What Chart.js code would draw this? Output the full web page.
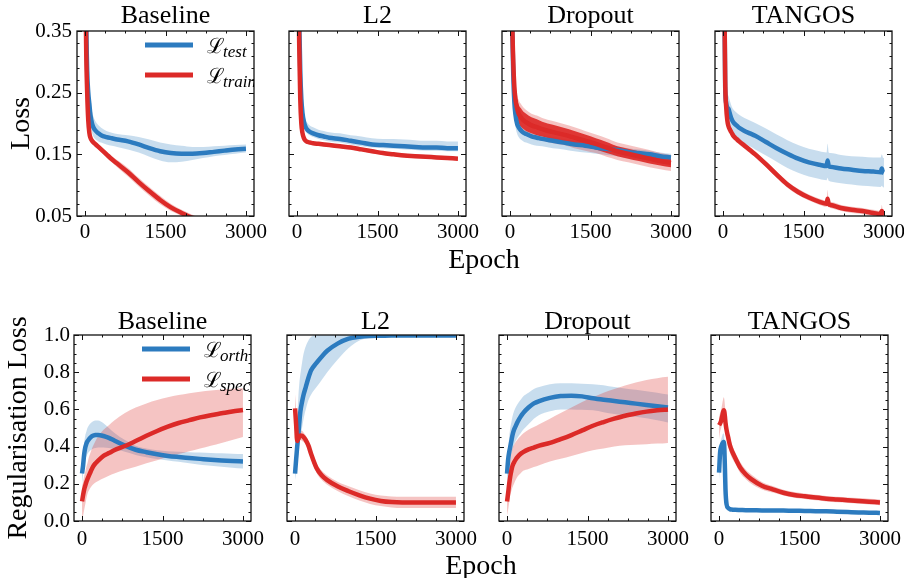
<!DOCTYPE html>
<html><head><meta charset="utf-8">
<script src="https://cdn.jsdelivr.net/npm/chart.js@4.4.0/dist/chart.umd.min.js"></script>
<style>
html,body{margin:0;padding:0;background:#fff;}
body{width:904px;height:578px;position:relative;overflow:hidden;}
canvas{position:absolute;left:0;top:0;}
.lab{position:absolute;width:200px;text-align:center;font:28px "Liberation Serif","DejaVu Serif",serif;line-height:28px;color:#000;}
</style></head>
<body>
<canvas id="c0" width="960" height="600"></canvas>
<canvas id="c1" width="960" height="600"></canvas>
<canvas id="c2" width="960" height="600"></canvas>
<canvas id="c3" width="960" height="600"></canvas>
<canvas id="c4" width="960" height="600"></canvas>
<canvas id="c5" width="960" height="600"></canvas>
<canvas id="c6" width="960" height="600"></canvas>
<canvas id="c7" width="960" height="600"></canvas>
<div class="lab" style="left:384px;top:245px;">Epoch</div>
<div class="lab" style="left:381px;top:551px;">Epoch</div>
<script>
// ---------- data ----------
const TITLES = ['Baseline', 'L2', 'Dropout', 'TANGOS'];
const X_TICKS = [0, 1500, 3000];
const X_MINOR = [375, 750, 1125, 1875, 2250, 2625];
const Y_TICKS_TOP = [0.05, 0.15, 0.25, 0.35];
const Y_MINOR_TOP = [0.07, 0.09, 0.11, 0.13, 0.17, 0.19, 0.21, 0.23, 0.27, 0.29, 0.31, 0.33];
const Y_TICKS_BOTTOM = [0.0, 0.2, 0.4, 0.6, 0.8, 1.0];
const Y_MINOR_BOTTOM = [0.05, 0.1, 0.15, 0.25, 0.3, 0.35, 0.45, 0.5, 0.55, 0.65, 0.7, 0.75, 0.85, 0.9, 0.95];

const EPOCHS = [0,20,40,60,80,100,130,160,200,250,300,400,500,600,800,1000,1200,1400,1600,1800,2000,2200,2400,2600,2800,3000];
const EPOCHS_TANGOS_TOP = [0,20,40,60,80,100,130,160,200,250,300,400,500,600,800,1000,1200,1400,1600,1800,1930,1950,1970,2000,2200,2400,2600,2800,2940,2960,2980,3000];
const EPOCHS_TANGOS_BOTTOM = [0,20,40,60,80,90,100,110,120,140,170,200,250,300,400,500,600,800,1000,1200,1400,1600,1800,2000,2200,2400,2600,2800,3000];

// Row 1: Loss (test / train)
const baseTest   = [0.60,0.38,0.285,0.25,0.232,0.214,0.200,0.193,0.188,0.184,0.181,0.178,0.176,0.174,0.171,0.166,0.160,0.155,0.152,0.151,0.151,0.152,0.154,0.156,0.158,0.159];
const baseTestHi = [0.65,0.42,0.31,0.27,0.25,0.235,0.22,0.21,0.203,0.197,0.193,0.188,0.185,0.183,0.181,0.178,0.174,0.169,0.166,0.164,0.162,0.162,0.163,0.164,0.165,0.166];
const baseTestLo = [0.55,0.34,0.26,0.23,0.215,0.198,0.185,0.178,0.174,0.171,0.169,0.166,0.164,0.162,0.158,0.153,0.146,0.140,0.137,0.138,0.141,0.144,0.147,0.149,0.151,0.153];
const baseTrain   = [0.55,0.33,0.25,0.205,0.185,0.177,0.172,0.169,0.166,0.162,0.158,0.150,0.142,0.135,0.121,0.105,0.090,0.076,0.064,0.055,0.047,0.041,0.036,0.032,0.029,0.027];
const baseTrainHi = [0.58,0.35,0.26,0.212,0.19,0.181,0.176,0.173,0.170,0.166,0.162,0.155,0.147,0.141,0.128,0.112,0.097,0.083,0.070,0.060,0.052,0.045,0.040,0.036,0.033,0.031];
const baseTrainLo = [0.52,0.31,0.24,0.198,0.18,0.173,0.168,0.165,0.162,0.158,0.154,0.145,0.137,0.129,0.114,0.098,0.083,0.069,0.058,0.050,0.042,0.037,0.032,0.028,0.025,0.023];

const l2Test   = [0.75,0.52,0.37,0.285,0.24,0.218,0.202,0.194,0.189,0.186,0.184,0.181,0.179,0.177,0.175,0.172,0.169,0.166,0.165,0.164,0.163,0.162,0.161,0.161,0.160,0.160];
const l2TestHi = [0.80,0.56,0.40,0.31,0.26,0.235,0.216,0.206,0.200,0.196,0.194,0.190,0.188,0.186,0.184,0.181,0.179,0.176,0.175,0.175,0.174,0.173,0.172,0.172,0.171,0.171];
const l2TestLo = [0.70,0.49,0.35,0.27,0.228,0.208,0.193,0.187,0.183,0.180,0.178,0.175,0.173,0.171,0.169,0.166,0.163,0.161,0.160,0.159,0.158,0.157,0.156,0.156,0.155,0.155];
const l2Train   = [0.70,0.48,0.33,0.24,0.20,0.185,0.176,0.172,0.170,0.169,0.168,0.167,0.166,0.165,0.163,0.161,0.158,0.155,0.152,0.150,0.148,0.147,0.146,0.145,0.144,0.143];
const l2TrainHi = [0.73,0.50,0.345,0.25,0.207,0.19,0.18,0.175,0.173,0.172,0.171,0.170,0.169,0.168,0.166,0.164,0.161,0.158,0.155,0.153,0.151,0.150,0.149,0.148,0.147,0.146];
const l2TrainLo = [0.67,0.46,0.315,0.23,0.193,0.18,0.172,0.169,0.167,0.166,0.165,0.164,0.163,0.162,0.160,0.158,0.155,0.152,0.149,0.147,0.145,0.144,0.143,0.142,0.141,0.140];

const dropTest   = [0.75,0.50,0.36,0.28,0.235,0.215,0.200,0.194,0.189,0.185,0.183,0.179,0.177,0.175,0.172,0.169,0.166,0.164,0.161,0.159,0.157,0.154,0.152,0.150,0.147,0.145];
const dropTestHi = [0.78,0.52,0.375,0.29,0.243,0.222,0.206,0.2,0.195,0.191,0.189,0.185,0.183,0.181,0.178,0.175,0.172,0.170,0.167,0.165,0.163,0.160,0.158,0.156,0.153,0.151];
const dropTestLo = [0.70,0.46,0.33,0.255,0.215,0.196,0.184,0.178,0.174,0.171,0.169,0.166,0.164,0.163,0.160,0.158,0.155,0.153,0.151,0.149,0.147,0.144,0.142,0.140,0.138,0.136];
const dropTrain   = [0.75,0.50,0.37,0.30,0.26,0.24,0.225,0.216,0.210,0.205,0.202,0.197,0.194,0.191,0.186,0.182,0.177,0.172,0.167,0.161,0.155,0.151,0.147,0.143,0.139,0.136];
const dropTrainNoiseHi = [0.77,0.52,0.39,0.32,0.278,0.256,0.24,0.231,0.225,0.219,0.216,0.21,0.207,0.203,0.198,0.193,0.188,0.182,0.176,0.170,0.163,0.159,0.155,0.151,0.146,0.143];
const dropTrainNoiseLo = [0.73,0.48,0.35,0.28,0.242,0.224,0.21,0.201,0.195,0.191,0.188,0.184,0.181,0.179,0.174,0.171,0.166,0.162,0.158,0.152,0.147,0.143,0.139,0.135,0.132,0.129];
const dropTrainHi = [0.78,0.53,0.40,0.33,0.285,0.263,0.247,0.238,0.232,0.226,0.222,0.216,0.213,0.209,0.204,0.199,0.194,0.188,0.182,0.176,0.169,0.165,0.161,0.157,0.152,0.149];
const dropTrainLo = [0.72,0.47,0.34,0.27,0.235,0.217,0.203,0.194,0.188,0.184,0.181,0.177,0.174,0.172,0.168,0.165,0.16,0.156,0.152,0.146,0.141,0.137,0.133,0.129,0.126,0.123];

const tanTest   = [0.80,0.45,0.26,0.232,0.226,0.224,0.215,0.207,0.201,0.197,0.193,0.188,0.184,0.180,0.170,0.160,0.151,0.143,0.137,0.133,0.131,0.140,0.131,0.130,0.127,0.125,0.123,0.122,0.121,0.127,0.121,0.120];
const tanTestHi = [0.85,0.48,0.285,0.255,0.248,0.245,0.236,0.228,0.222,0.218,0.214,0.209,0.205,0.201,0.192,0.182,0.173,0.165,0.159,0.155,0.153,0.167,0.153,0.152,0.149,0.147,0.146,0.145,0.145,0.150,0.145,0.144];
const tanTestLo = [0.75,0.42,0.24,0.212,0.206,0.203,0.195,0.187,0.181,0.176,0.172,0.167,0.163,0.158,0.148,0.138,0.128,0.12,0.114,0.11,0.108,0.112,0.107,0.106,0.103,0.101,0.099,0.098,0.097,0.099,0.097,0.096];
const tanTrain   = [0.80,0.45,0.27,0.225,0.205,0.196,0.190,0.185,0.179,0.175,0.171,0.164,0.157,0.150,0.134,0.117,0.101,0.089,0.080,0.073,0.070,0.078,0.069,0.068,0.063,0.060,0.058,0.055,0.053,0.058,0.053,0.052];
const tanTrainHi = [0.83,0.47,0.28,0.232,0.211,0.202,0.196,0.19,0.184,0.18,0.176,0.169,0.162,0.155,0.139,0.122,0.106,0.094,0.085,0.078,0.075,0.092,0.074,0.073,0.068,0.065,0.063,0.06,0.058,0.068,0.058,0.057];
const tanTrainLo = [0.77,0.43,0.26,0.218,0.199,0.19,0.184,0.18,0.174,0.17,0.166,0.159,0.152,0.145,0.129,0.112,0.096,0.084,0.075,0.068,0.065,0.068,0.064,0.063,0.058,0.055,0.053,0.05,0.048,0.05,0.048,0.047];

// Row 2: Regularisation loss (orth / spec)
const baseOrth   = [0.255,0.30,0.36,0.395,0.415,0.428,0.44,0.45,0.458,0.462,0.463,0.457,0.447,0.433,0.405,0.383,0.37,0.359,0.35,0.344,0.339,0.334,0.329,0.325,0.322,0.32];
const baseOrthHi = [0.28,0.35,0.42,0.46,0.48,0.5,0.515,0.525,0.535,0.54,0.54,0.525,0.5,0.475,0.435,0.405,0.39,0.38,0.375,0.372,0.37,0.368,0.366,0.364,0.362,0.36];
const baseOrthLo = [0.20,0.25,0.30,0.33,0.345,0.36,0.372,0.38,0.388,0.392,0.395,0.395,0.392,0.387,0.372,0.355,0.343,0.333,0.325,0.318,0.31,0.303,0.297,0.291,0.286,0.282];
const baseSpec   = [0.105,0.14,0.17,0.19,0.21,0.225,0.245,0.265,0.29,0.31,0.325,0.35,0.365,0.38,0.403,0.43,0.458,0.484,0.507,0.527,0.542,0.557,0.569,0.579,0.589,0.597];
const baseSpecHi = [0.19,0.21,0.24,0.265,0.29,0.31,0.345,0.37,0.4,0.43,0.455,0.49,0.515,0.54,0.58,0.61,0.632,0.65,0.665,0.677,0.687,0.695,0.702,0.707,0.711,0.714];
const baseSpecLo = [0.02,0.03,0.06,0.09,0.12,0.145,0.165,0.18,0.195,0.207,0.215,0.23,0.243,0.255,0.275,0.292,0.31,0.326,0.345,0.36,0.375,0.39,0.405,0.42,0.436,0.452];

const l2Orth   = [0.255,0.33,0.40,0.46,0.53,0.59,0.64,0.68,0.72,0.77,0.81,0.85,0.885,0.915,0.955,0.98,0.99,0.995,0.996,0.997,0.997,0.997,0.997,0.997,0.997,0.997];
const l2OrthHi = [0.28,0.42,0.55,0.66,0.74,0.79,0.85,0.9,0.94,0.97,0.99,1.0,1.0,1.0,1.0,1.0,1.0,1.0,1.0,1.0,1.0,1.0,1.0,1.0,1.0,1.0];
const l2OrthLo = [0.22,0.26,0.30,0.35,0.40,0.45,0.50,0.55,0.60,0.65,0.68,0.72,0.76,0.80,0.87,0.93,0.97,0.985,0.99,0.992,0.992,0.992,0.992,0.992,0.992,0.992];
const l2Spec   = [0.605,0.52,0.43,0.44,0.455,0.46,0.458,0.45,0.435,0.405,0.36,0.285,0.245,0.22,0.185,0.16,0.138,0.12,0.108,0.102,0.10,0.10,0.10,0.10,0.10,0.10];
const l2SpecHi = [0.68,0.60,0.48,0.47,0.48,0.485,0.485,0.475,0.46,0.43,0.385,0.31,0.27,0.245,0.21,0.187,0.165,0.148,0.137,0.132,0.13,0.13,0.13,0.13,0.13,0.13];
const l2SpecLo = [0.53,0.44,0.38,0.41,0.43,0.435,0.43,0.425,0.41,0.38,0.335,0.26,0.22,0.195,0.16,0.133,0.11,0.092,0.08,0.073,0.07,0.07,0.07,0.07,0.07,0.07];

const dropOrth   = [0.255,0.33,0.37,0.40,0.43,0.46,0.49,0.51,0.535,0.56,0.58,0.61,0.632,0.645,0.662,0.672,0.674,0.67,0.66,0.652,0.645,0.638,0.631,0.624,0.617,0.61];
const dropOrthHi = [0.28,0.38,0.45,0.5,0.53,0.56,0.59,0.61,0.63,0.65,0.67,0.69,0.71,0.72,0.735,0.74,0.74,0.738,0.735,0.73,0.72,0.712,0.705,0.698,0.69,0.68];
const dropOrthLo = [0.20,0.25,0.29,0.33,0.36,0.38,0.41,0.43,0.45,0.47,0.49,0.52,0.55,0.57,0.59,0.60,0.6,0.598,0.595,0.585,0.575,0.567,0.56,0.552,0.542,0.53];
const dropSpec   = [0.105,0.15,0.20,0.24,0.27,0.295,0.315,0.33,0.345,0.36,0.37,0.385,0.395,0.405,0.42,0.44,0.462,0.487,0.512,0.532,0.55,0.566,0.578,0.588,0.595,0.6];
const dropSpecHi = [0.15,0.21,0.28,0.33,0.365,0.39,0.41,0.425,0.44,0.455,0.47,0.49,0.505,0.52,0.55,0.58,0.61,0.64,0.665,0.69,0.71,0.728,0.745,0.758,0.768,0.775];
const dropSpecLo = [0.03,0.06,0.10,0.14,0.16,0.18,0.2,0.22,0.24,0.255,0.27,0.28,0.29,0.3,0.32,0.335,0.35,0.365,0.38,0.39,0.4,0.407,0.41,0.413,0.416,0.42];

const tanOrth   = [0.26,0.37,0.40,0.415,0.425,0.425,0.38,0.28,0.17,0.09,0.07,0.064,0.061,0.06,0.059,0.058,0.058,0.057,0.057,0.056,0.055,0.054,0.053,0.052,0.05,0.048,0.046,0.045,0.043];
const tanOrthHi = [0.28,0.41,0.44,0.46,0.47,0.47,0.43,0.33,0.2,0.1,0.076,0.069,0.066,0.065,0.064,0.063,0.063,0.062,0.062,0.061,0.06,0.059,0.058,0.057,0.055,0.053,0.051,0.05,0.048];
const tanOrthLo = [0.22,0.30,0.34,0.36,0.37,0.37,0.33,0.24,0.13,0.075,0.064,0.059,0.056,0.055,0.054,0.053,0.053,0.052,0.052,0.051,0.05,0.049,0.048,0.047,0.045,0.043,0.041,0.04,0.038];
const tanSpec   = [0.515,0.525,0.54,0.565,0.59,0.595,0.585,0.56,0.53,0.49,0.45,0.41,0.37,0.34,0.285,0.25,0.225,0.19,0.17,0.152,0.14,0.133,0.126,0.12,0.116,0.112,0.108,0.104,0.1];
const tanSpecHi = [0.56,0.58,0.60,0.63,0.66,0.665,0.65,0.62,0.585,0.54,0.49,0.45,0.405,0.37,0.315,0.275,0.25,0.21,0.188,0.168,0.156,0.148,0.141,0.135,0.131,0.127,0.123,0.119,0.115];
const tanSpecLo = [0.44,0.48,0.50,0.52,0.54,0.545,0.53,0.5,0.47,0.44,0.41,0.37,0.335,0.31,0.255,0.225,0.2,0.17,0.153,0.137,0.125,0.118,0.111,0.105,0.101,0.097,0.093,0.089,0.085];

// ---------- style / layout ----------
const SERIF = '"Liberation Serif","DejaVu Serif",serif';
const BLUE = '#2c7bbf', RED = '#dc2a28';
const BLUE_BAND = 'rgba(44,123,191,0.26)', RED_BAND = 'rgba(220,42,40,0.28)', RED_NOISE = 'rgba(220,42,40,0.92)';
const CW = 960, CH = 600;
const ROWS = [
  {top: 31, bottom: 216, lefts: [77, 289, 502, 715], width: 177, titleH: 28, yTitleLeft: 8, ymin: 0.05, ymax: 0.35,
   yTicks: Y_TICKS_TOP, yMinor: Y_MINOR_TOP, yDec: 2, yLabel: 'Loss', xPad: 4, yPad: 5},
  {top: 335, bottom: 521, lefts: [74, 287, 499, 711], width: 177, titleH: 26, yTitleLeft: 5, ymin: 0, ymax: 1.0,
   yTicks: Y_TICKS_BOTTOM, yMinor: Y_MINOR_BOTTOM, yDec: 1, yLabel: 'Regularisation Loss', xPad: 6, yPad: 4}
];

function pts(xs, ys) { return xs.map((x, i) => ({x: x, y: ys[i]})); }
function lineDs(label, xs, ys, color, order) {
  return {label: label, data: pts(xs, ys), borderColor: color, backgroundColor: color, borderWidth: 4.5,
    fill: false, order: order, clip: 0, cubicInterpolationMode: 'monotone', pointRadius: 0};
}
function bandDs(xs, hi, lo, color, order) {
  return [
    {data: pts(xs, hi), borderColor: 'rgba(0,0,0,0)', borderWidth: 0, backgroundColor: color, fill: '+1',
     order: order, clip: 0, cubicInterpolationMode: 'monotone', pointRadius: 0},
    {data: pts(xs, lo), borderColor: 'rgba(0,0,0,0)', borderWidth: 0, backgroundColor: color, fill: false,
     order: order, clip: 0, cubicInterpolationMode: 'monotone', pointRadius: 0}
  ];
}

const framePlugin = {
  id: 'frame',
  afterDatasetsDraw(chart, args, o) {
    const {ctx, chartArea: a, scales: {x, y}} = chart;
    ctx.save();
    ctx.strokeStyle = '#111';
    ctx.lineWidth = 1.3;
    ctx.strokeRect(a.left, a.top, a.right - a.left, a.bottom - a.top);
    ctx.lineWidth = 1;
    const seg = (x1, y1, x2, y2) => { ctx.beginPath(); ctx.moveTo(x1, y1); ctx.lineTo(x2, y2); ctx.stroke(); };
    const xt = (vals, len) => vals.forEach(v => { const p = Math.round(x.getPixelForValue(v)) + 0.5; seg(p, a.bottom, p, a.bottom - len); seg(p, a.top, p, a.top + len); });
    const yt = (vals, len) => vals.forEach(v => { const p = Math.round(y.getPixelForValue(v)) + 0.5; seg(a.left, p, a.left + len, p); seg(a.right, p, a.right - len, p); });
    xt(o.xMajor, 5); xt(o.xMinor, 2.5);
    yt(o.yMajor, 5); yt(o.yMinor, 2.5);
    ctx.restore();
  }
};

const mathLegend = {
  id: 'mathLegend',
  afterDatasetsDraw(chart, args, o) {
    if (!o.show) return;
    const {ctx, chartArea: a} = chart;
    const items = chart.data.datasets.filter(d => d.label && d.label.indexOf('_') > 0);
    ctx.save();
    ctx.beginPath(); ctx.rect(a.left, a.top, a.right - a.left, a.bottom - a.top); ctx.clip();
    items.forEach((d, i) => {
      const [main, sub] = d.label.split('_');
      const yy = a.top + 14 + i * 30;
      ctx.strokeStyle = d.borderColor; ctx.lineWidth = 5;
      ctx.beginPath(); ctx.moveTo(a.left + 68, yy); ctx.lineTo(a.left + 116, yy); ctx.stroke();
      ctx.fillStyle = '#000'; ctx.textBaseline = 'alphabetic'; ctx.textAlign = 'left';
      ctx.font = '21px "DejaVu Serif"';
      ctx.fillText(main, a.left + 130, yy + 8);
      const w = ctx.measureText(main).width;
      ctx.font = 'italic 17px ' + SERIF;
      ctx.fillText(sub, a.left + 128 + w, yy + 12);
    });
    ctx.restore();
  }
};

function makeChart(id, row, col, datasets) {
  const R = ROWS[row];
  const L = R.lefts[col], W = R.width;
  const YW = col === 0 ? L - R.yTitleLeft : 0;
  const XH = 34;
  new Chart(document.getElementById(id), {
    type: 'line',
    data: {datasets: datasets},
    options: {
      responsive: false, animation: false, events: [],
      layout: {autoPadding: false, padding: {left: L - YW, top: R.top - R.titleH, right: CW - (L + W), bottom: CH - R.bottom - XH}},
      plugins: {
        legend: {display: false}, tooltip: {enabled: false},
        title: {display: true, fullSize: false, text: TITLES[col], color: '#000', font: {family: SERIF, size: 26, weight: 'normal', lineHeight: 1},
                padding: {top: 0, bottom: R.titleH - 26}},
        frame: {xMajor: X_TICKS, xMinor: X_MINOR, yMajor: R.yTicks, yMinor: R.yMinor},
        mathLegend: {show: col === 0}
      },
      scales: {
        x: {type: 'linear', min: -150, max: 3150,
            afterBuildTicks: s => { s.ticks = X_TICKS.map(v => ({value: v})); },
            afterFit: s => { s.height = XH; },
            grid: {display: false, drawTicks: false}, border: {display: false},
            ticks: {color: '#000', padding: R.xPad, maxRotation: 0, font: {family: SERIF, size: 21}, callback: v => String(v)}},
        y: {type: 'linear', min: R.ymin, max: R.ymax,
            afterBuildTicks: s => { s.ticks = R.yTicks.map(v => ({value: v})); },
            afterFit: s => { s.width = YW; },
            grid: {display: false, drawTicks: false}, border: {display: false},
            ticks: {display: col === 0, color: '#000', padding: R.yPad, font: {family: SERIF, size: 21}, callback: v => Number(v).toFixed(R.yDec)},
            title: {display: col === 0, text: R.yLabel, color: '#000', font: {family: SERIF, size: 28, lineHeight: 1}, padding: {top: 0, bottom: 0}}}
      }
    },
    plugins: [framePlugin, mathLegend]
  });
}

function lossSets(xs, test, testHi, testLo, train, trainHi, trainLo, noiseHi, noiseLo) {
  const ds = [lineDs('ℒ_test', xs, test, BLUE, 1), lineDs('ℒ_train', xs, train, RED, 0)];
  ds.push(...bandDs(xs, testHi, testLo, BLUE_BAND, 4));
  ds.push(...bandDs(xs, trainHi, trainLo, RED_BAND, 3));
  if (noiseHi) ds.push(...bandDs(xs, noiseHi, noiseLo, RED_NOISE, 2));
  return ds;
}
function regSets(xs, orth, orthHi, orthLo, spec, specHi, specLo) {
  const ds = [lineDs('ℒ_orth', xs, orth, BLUE, 1), lineDs('ℒ_spec', xs, spec, RED, 0)];
  ds.push(...bandDs(xs, orthHi, orthLo, BLUE_BAND, 4));
  ds.push(...bandDs(xs, specHi, specLo, RED_BAND, 3));
  return ds;
}

makeChart('c0', 0, 0, lossSets(EPOCHS, baseTest, baseTestHi, baseTestLo, baseTrain, baseTrainHi, baseTrainLo));
makeChart('c1', 0, 1, lossSets(EPOCHS, l2Test, l2TestHi, l2TestLo, l2Train, l2TrainHi, l2TrainLo));
makeChart('c2', 0, 2, lossSets(EPOCHS, dropTest, dropTestHi, dropTestLo, dropTrain, dropTrainHi, dropTrainLo, dropTrainNoiseHi, dropTrainNoiseLo));
makeChart('c3', 0, 3, lossSets(EPOCHS_TANGOS_TOP, tanTest, tanTestHi, tanTestLo, tanTrain, tanTrainHi, tanTrainLo));
makeChart('c4', 1, 0, regSets(EPOCHS, baseOrth, baseOrthHi, baseOrthLo, baseSpec, baseSpecHi, baseSpecLo));
makeChart('c5', 1, 1, regSets(EPOCHS, l2Orth, l2OrthHi, l2OrthLo, l2Spec, l2SpecHi, l2SpecLo));
makeChart('c6', 1, 2, regSets(EPOCHS, dropOrth, dropOrthHi, dropOrthLo, dropSpec, dropSpecHi, dropSpecLo));
makeChart('c7', 1, 3, regSets(EPOCHS_TANGOS_BOTTOM, tanOrth, tanOrthHi, tanOrthLo, tanSpec, tanSpecHi, tanSpecLo));
</script>
</body></html>
